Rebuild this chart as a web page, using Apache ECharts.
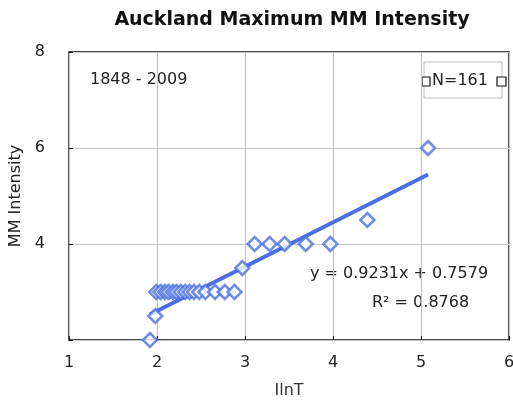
<!DOCTYPE html>
<html>
<head>
<meta charset="utf-8">
<script src="https://cdn.jsdelivr.net/npm/echarts@6/dist/echarts.min.js"></script>
<style>
  html, body { margin: 0; padding: 0; background: #fff; }
  #chart { width: 513px; height: 403px; }
</style>
</head>
<body>
<div id="chart"></div>
<script>
// 数据
var intensityX = [1.92, 1.98, 1.99, 2.04, 2.09, 2.13, 2.18, 2.22, 2.27, 2.32, 2.37, 2.42, 2.48, 2.55, 2.66, 2.77, 2.88, 2.97, 3.11, 3.28, 3.45, 3.69, 3.97, 4.39, 5.08];
var intensityY = [2, 2.5, 3, 3, 3, 3, 3, 3, 3, 3, 3, 3, 3, 3, 3, 3, 3, 3.5, 4, 4, 4, 4, 4, 4.5, 6];
var trendSlope = 0.9231;
var trendIntercept = 0.7579;
var trendRange = [1.92, 5.08];
var yTicks = [2, 4, 6, 8];
var xTicks = [1, 2, 3, 4, 5, 6];

var blue = '#4a6fe3';
var font = 'DejaVu Sans, sans-serif';

var points = intensityX.map(function(x, i) { return [x, intensityY[i]]; });
var trendLine = trendRange.map(function(x) { return [x, trendSlope * x + trendIntercept]; });

//文字
function label(text, x, y) {
    return {
        type: 'text', x: x, y: y,
        style: { text: text, font: '16px ' + font, fill: '#222', verticalAlign: 'middle' }
    };
}

var myChart = echarts.init(document.getElementById('chart'));
myChart.setOption({
    animation: false,
    title: {
        text: 'Auckland Maximum MM Intensity',
        left: 287,
        textAlign: 'center',
        top: 6,
        textStyle: { fontFamily: font, fontSize: 19, fontWeight: 'bold', color: '#111' }
    },
    grid: {
        left: 69, right: 4, top: 52, bottom: 63,
        outerBoundsMode: 'none',
        containLabel: false,
        show: true, borderColor: '#111', borderWidth: 1.5
    },
    xAxis: {
        type: 'value', min: xTicks[0], max: xTicks[xTicks.length - 1], interval: 1,
        name: 'IlnT', nameLocation: 'middle', nameGap: 43,
        nameTextStyle: { fontFamily: font, fontSize: 16, color: '#333' },
        axisLine: { show: false },
        axisTick: { show: true, inside: true, length: 4, lineStyle: { color: '#111' } },
        axisLabel: { fontFamily: font, fontSize: 16, color: '#222', margin: 15 },
        splitLine: { show: true, lineStyle: { color: '#c4c4c4', width: 1.2 } }
    },
    yAxis: {
        type: 'value', min: yTicks[0], max: yTicks[yTicks.length - 1], interval: 2,
        name: 'MM Intensity', nameLocation: 'middle', nameGap: 43,
        nameTextStyle: { fontFamily: font, fontSize: 16, color: '#222' },
        axisLine: { show: false },
        axisTick: { show: true, inside: true, length: 4, lineStyle: { color: '#111' } },
        axisLabel: {
            fontFamily: font, fontSize: 16, color: '#222', margin: 24,
            formatter: function(v) { return v === yTicks[0] ? '' : String(v); }
        },
        splitLine: { show: true, lineStyle: { color: '#c4c4c4', width: 1.2 } }
    },
    series: [
        {
            type: 'line',
            data: trendLine,
            symbol: 'none',
            lineStyle: { color: blue, width: 4 },
            z: 3
        },
        {
            type: 'scatter',
            data: points,
            symbol: 'diamond',
            symbolSize: 14,
            itemStyle: { color: '#fff', borderColor: blue, borderWidth: 2.5 },
            z: 4
        }
    ],
    graphic: [
        label('1848 - 2009', 90, 80),
        { type: 'rect', shape: { x: 424, y: 62, width: 78, height: 36 }, style: { fill: 'none', stroke: '#bbb', lineWidth: 1 } },
        { type: 'rect', shape: { x: 422, y: 77, width: 8, height: 9 }, style: { fill: '#fff', stroke: '#111', lineWidth: 1.2 } },
        label('N=161', 432, 81),
        { type: 'rect', shape: { x: 497, y: 77, width: 9, height: 9 }, style: { fill: '#fff', stroke: '#111', lineWidth: 1.2 } },
        label('y = 0.9231x + 0.7579', 310, 274),
        label('R² = 0.8768', 372, 303)
    ]
});
</script>
</body>
</html>
